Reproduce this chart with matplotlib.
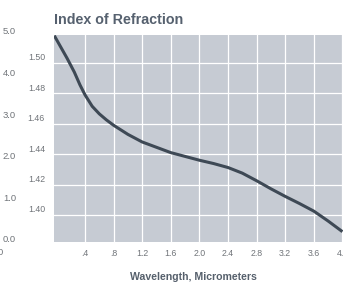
import numpy as np
import matplotlib as mpl
mpl.use('Agg')
import matplotlib.pyplot as plt
import matplotlib.transforms as mtransforms

plt.rcParams['font.family'] = ['Liberation Sans', 'DejaVu Sans']

# values
wavelength = [-0.03, 0.15, 0.25, 0.33, 0.4, 0.5, 0.6, 0.7, 0.8, 1.0, 1.2, 1.6,
              2.0, 2.2, 2.4, 2.6, 2.8, 3.0, 3.2, 3.4, 3.6, 3.8, 4.0]
refr_index = [1.518, 1.503, 1.494, 1.4855, 1.479, 1.4715, 1.4665, 1.4625,
              1.459, 1.453, 1.448, 1.441, 1.436, 1.4338, 1.4312, 1.4275,
              1.4225, 1.4172, 1.4122, 1.4075, 1.4025, 1.396, 1.389]

x_ticks = [0.4, 0.8, 1.2, 1.6, 2.0, 2.4, 2.8, 3.2, 3.6, 4.0]
x_tick_labels = ['.4', '.8', '1.2', '1.6', '2.0', '2.4', '2.8', '3.2', '3.6', '4.0']
y_ticks = [1.40, 1.42, 1.44, 1.46, 1.48, 1.50]
y_tick_labels = ['1.40', '1.42', '1.44', '1.46', '1.48', '1.50']

# labels of the neighbouring chart that show up on the left edge
left_ticks = [0, 1, 2, 3, 4, 5]
left_tick_labels = ['0.0', '1.0', '2.0', '3.0', '4.0', '5.0']

tick_col = '#707479'
fig = plt.figure(figsize=(3.43, 2.82), dpi=100)

ax = fig.add_axes([54/343, 40/282, 289/343, 207/282])
ax.set_facecolor('#c6cbd3')
ax.plot(wavelength, refr_index, color='#3e4955', lw=2.2,
        solid_capstyle='butt', solid_joinstyle='round')

ax.set_xlim(-0.034, 4.008)
ax.set_ylim(1.3822, 1.5184)
ax.set_xticks(x_ticks)
ax.set_xticklabels(x_tick_labels)
ax.set_yticks(y_ticks)
ax.set_yticklabels(y_tick_labels)
ax.grid(True, color='white', lw=0.9)
ax.set_axisbelow(True)
for s in ax.spines.values():
    s.set_visible(False)
ax.tick_params(length=0, labelsize=6.3, labelcolor=tick_col)
ax.tick_params(axis='y', pad=6.5)
ax.tick_params(axis='x', pad=5)

#y labels sit a little above their gridline
off = mtransforms.ScaledTranslation(0, 6/100, fig.dpi_scale_trans)
for lab in ax.get_yticklabels():
    lab.set_transform(lab.get_transform() + off)

fig.text(54/343, 1 - 20/282, 'Index of Refraction', fontsize=10.3,
         fontweight='bold', color='#56616f', ha='left', va='center')
fig.text(193/343, 1 - 276.5/282, 'Wavelength, Micrometers', fontsize=7.6,
         fontweight='bold', color='#56606c', ha='center', va='center')

# left edge axis (other chart)
ax2 = fig.add_axes([16/343, 43/282, 0.001, 208/282])
ax2.set_ylim(0, 5)
ax2.set_yticks(left_ticks)
ax2.set_yticklabels(left_tick_labels)
ax2.set_xticks([])
ax2.patch.set_visible(False)
for s in ax2.spines.values():
    s.set_visible(False)
ax2.tick_params(length=0, pad=0, labelsize=6.8, labelcolor=tick_col)
fig.text(0, 1 - 252.5/282, '0', fontsize=6.8, color=tick_col, ha='center', va='center')

plt.savefig('out.png', dpi=100)
